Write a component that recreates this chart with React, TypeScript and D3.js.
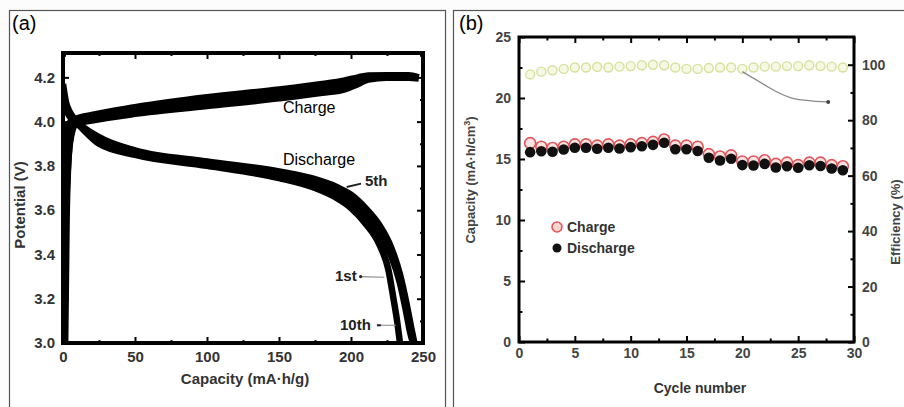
import React, { useEffect, useRef } from 'react';
import * as d3 from 'd3';

const W = 904;
const H = 407;
const FONT = 'Liberation Sans, Arial, Helvetica, sans-serif';

// (a) voltage profiles, [capacity (mA·h/g), potential (V)]
const charge1st = [[0.4, 3.0], [0.7, 3.6], [1.4, 3.88], [3, 3.98], [8, 4.01], [20, 4.03], [50, 4.065], [100, 4.11], [150, 4.145], [180, 4.17], [195, 4.185], [205, 4.2], [212, 4.208], [225, 4.21], [240, 4.21], [247, 4.2]];
const charge5th = [[1.5, 3.0], [2.5, 3.55], [4, 3.85], [6, 3.96], [9, 4.0], [20, 4.017], [50, 4.05], [100, 4.09], [150, 4.125], [180, 4.15], [195, 4.165], [205, 4.19], [212, 4.2], [225, 4.203], [240, 4.203], [247, 4.198]];
const charge10th = [[0.8, 3.0], [1.8, 3.5], [3.5, 3.8], [5.5, 3.93], [9, 3.99], [20, 4.005], [50, 4.035], [100, 4.07], [150, 4.105], [180, 4.13], [195, 4.145], [205, 4.17], [212, 4.19], [225, 4.198], [240, 4.198], [247, 4.195]];
const discharge1st = [[0, 4.17], [2, 4.09], [5, 4.04], [10, 4.0], [25, 3.93], [50, 3.87], [100, 3.82], [150, 3.775], [175, 3.74], [190, 3.705], [200, 3.67], [210, 3.61], [220, 3.53], [228, 3.43], [234, 3.31], [238.5, 3.18], [241.5, 3.08], [244, 3.0]];
const discharge5th = [[0, 4.15], [2, 4.07], [5, 4.03], [10, 3.995], [25, 3.915], [50, 3.86], [100, 3.81], [150, 3.76], [175, 3.72], [190, 3.68], [200, 3.64], [210, 3.575], [220, 3.48], [228, 3.39], [234, 3.27], [238, 3.15], [241, 3.05], [243, 3.0]];
const discharge10th = [[0, 4.14], [2, 4.06], [5, 4.02], [10, 3.99], [25, 3.9], [50, 3.85], [100, 3.8], [150, 3.745], [175, 3.7], [190, 3.655], [200, 3.61], [210, 3.54], [220, 3.44], [226, 3.33], [229.5, 3.2], [232, 3.1], [234, 3.0]];
const capTicksA = [0, 50, 100, 150, 200, 250];
const capMinorA = [25, 75, 125, 175, 225];
const potTicks = [3.0, 3.2, 3.4, 3.6, 3.8, 4.0, 4.2];
const potMinor = [3.1, 3.3, 3.5, 3.7, 3.9, 4.1, 4.3];
// pointer lines for cycle labels
const ptr5th = [[197, 3.705], [207, 3.72]];
const ptr1st = [[206, 3.3], [223, 3.297]];
const ptr10th = [[218, 3.08], [231, 3.08]];

// (b) cycling
const cycleNo = [1, 2, 3, 4, 5, 6, 7, 8, 9, 10, 11, 12, 13, 14, 15, 16, 17, 18, 19, 20, 21, 22, 23, 24, 25, 26, 27, 28, 29];
const chargeCap = [16.3, 16.0, 15.9, 16.0, 16.2, 16.2, 16.1, 16.2, 16.1, 16.2, 16.3, 16.4, 16.6, 16.1, 16.1, 16.0, 15.4, 15.2, 15.3, 14.8, 14.8, 14.9, 14.6, 14.7, 14.5, 14.7, 14.7, 14.5, 14.4];
const dischargeCap = [15.56, 15.64, 15.59, 15.78, 15.92, 15.92, 15.84, 15.92, 15.86, 15.97, 16.05, 16.16, 16.33, 15.8, 15.8, 15.66, 15.1, 14.88, 15.02, 14.5, 14.47, 14.6, 14.3, 14.41, 14.28, 14.49, 14.43, 14.22, 14.08];
const efficiency = [96.5, 97.5, 98, 98.5, 99, 99, 99.2, 99, 99.3, 99.5, 99.8, 100, 99.8, 99, 98.5, 98.5, 98.8, 99, 99, 98.5, 99, 99.3, 99.3, 99.5, 99.5, 99.8, 99.5, 99.3, 99];
const cycleTicks = [0, 5, 10, 15, 20, 25, 30];
const cycleMinor = [2.5, 7.5, 12.5, 17.5, 22.5, 27.5];
const capTicksB = [0, 5, 10, 15, 20, 25];
const capMinorB = [2.5, 7.5, 12.5, 17.5, 22.5];
const effTicks = [0, 20, 40, 60, 80, 100];
const effMinor = [10, 30, 50, 70, 90];
const effArrow = [[20, 97.5], [22.5, 91.5], [24.6, 87.8], [27.6, 86.6]];

const styleAxis = (g, opts) => {
  g.select('.domain').remove();
  g.selectAll('line').attr('stroke', '#000').attr('stroke-width', opts.tw);
  g.selectAll('text')
    .attr('font-family', FONT)
    .attr('font-size', opts.fs)
    .attr('font-weight', 'bold')
    .attr('fill', opts.color);
};

const addAxes = (svg, x, y, o) => {
  const [x0, x1] = x.range();
  const [y0, y1] = y.range();
  const st = { tw: o.tw, fs: o.fs, color: o.color };
  const sets = [
    [d3.axisBottom(x).tickValues(o.xt).tickSize(-o.major).tickPadding(o.xpad).tickFormat(d3.format('d')), `translate(0,${y0})`],
    [d3.axisBottom(x).tickValues(o.xm).tickSize(-o.minor).tickFormat(() => ''), `translate(0,${y0})`],
    [d3.axisTop(x).tickValues(o.xt).tickSize(-o.major).tickFormat(() => ''), `translate(0,${y1})`],
    [d3.axisTop(x).tickValues(o.xm).tickSize(-o.minor).tickFormat(() => ''), `translate(0,${y1})`],
    [d3.axisLeft(y).tickValues(o.yt).tickSize(-o.major).tickPadding(o.ypad).tickFormat(o.yfmt), `translate(${x0},0)`],
    [d3.axisLeft(y).tickValues(o.ym).tickSize(-o.minor).tickFormat(() => ''), `translate(${x0},0)`],
  ];
  sets.forEach(([ax, tr]) => {
    svg.append('g').attr('transform', tr).call(ax).call(g => styleAxis(g, st));
  });
  if (o.y2) {
    const y2 = o.y2;
    svg.append('g').attr('transform', `translate(${x1},0)`)
      .call(d3.axisRight(y2).tickValues(o.y2t).tickSize(-o.major).tickPadding(o.ypad).tickFormat(d3.format('d')))
      .call(g => styleAxis(g, st));
    svg.append('g').attr('transform', `translate(${x1},0)`)
      .call(d3.axisRight(y2).tickValues(o.y2m).tickSize(-o.minor).tickFormat(() => ''))
      .call(g => styleAxis(g, st));
  } else {
    svg.append('g').attr('transform', `translate(${x1},0)`)
      .call(d3.axisRight(y).tickValues(o.yt).tickSize(-o.major).tickFormat(() => ''))
      .call(g => styleAxis(g, st));
    svg.append('g').attr('transform', `translate(${x1},0)`)
      .call(d3.axisRight(y).tickValues(o.ym).tickSize(-o.minor).tickFormat(() => ''))
      .call(g => styleAxis(g, st));
  }
  svg.append('rect')
    .attr('x', x0).attr('y', y1)
    .attr('width', x1 - x0).attr('height', y0 - y1)
    .attr('fill', 'none').attr('stroke', '#000').attr('stroke-width', o.fw);
};

const label = (svg, txt, x, y, size, weight, color, anchor = 'start', rot = 0) => {
  const t = svg.append('text')
    .attr('x', x).attr('y', y)
    .attr('font-family', FONT)
    .attr('font-size', size)
    .attr('font-weight', weight)
    .attr('fill', color)
    .attr('text-anchor', anchor)
    .text(txt);
  if (rot) t.attr('transform', `rotate(${rot},${x},${y})`);
  return t;
};

const drawPanelA = (svg) => {
  const x = d3.scaleLinear().domain([0, 250]).range([63, 423]);
  const y = d3.scaleLinear().domain([3.0, 4.31]).range([343, 53]);

  svg.append('defs').append('clipPath').attr('id', 'clipA')
    .append('rect').attr('x', 63).attr('y', 53).attr('width', 360).attr('height', 290);

  const line = d3.line().x(d => x(d[0])).y(d => y(d[1])).curve(d3.curveMonotoneX);
  const curves = svg.append('g').attr('clip-path', 'url(#clipA)');
  [charge1st, charge5th, charge10th, discharge1st, discharge5th, discharge10th].forEach(s => {
    curves.append('path')
      .attr('d', line(s))
      .attr('fill', 'none')
      .attr('stroke', '#000')
      .attr('stroke-width', 6.5)
      .attr('stroke-linejoin', 'round');
  });

  addAxes(svg, x, y, {
    xt: capTicksA, xm: capMinorA, yt: potTicks, ym: potMinor,
    major: 6, minor: 3, tw: 2, fw: 4, fs: 15, color: '#333',
    xpad: 8, ypad: 8, yfmt: d3.format('.1f'),
  });

  const straight = d3.line().x(d => x(d[0])).y(d => y(d[1]));
  svg.append('path').attr('d', straight(ptr5th)).attr('stroke', '#222').attr('stroke-width', 2).attr('fill', 'none');
  svg.append('path').attr('d', straight(ptr1st)).attr('stroke', '#888').attr('stroke-width', 1.2).attr('fill', 'none');
  svg.append('path').attr('d', straight(ptr10th)).attr('stroke', '#999').attr('stroke-width', 1.2).attr('fill', 'none');
  svg.append('circle').attr('cx', x(ptr1st[0][0]) + 1).attr('cy', y(ptr1st[0][1])).attr('r', 1.6).attr('fill', '#222');
  svg.append('rect').attr('x', x(ptr10th[0][0])).attr('y', y(ptr10th[0][1]) - 1).attr('width', 4).attr('height', 2).attr('fill', '#222');

  label(svg, 'Charge', 283, 113, 16, 'normal', '#000');
  label(svg, 'Discharge', 283, 165, 16, 'normal', '#000');
  label(svg, '5th', 365, 186, 15, 'bold', '#222');
  label(svg, '1st', 335, 281, 15, 'bold', '#222');
  label(svg, '10th', 340, 330, 15, 'bold', '#222');

  label(svg, 'Potential (V)', 25, 205, 15, 'bold', '#333', 'middle', -90);
  label(svg, 'Capacity (mA·h/g)', 245, 384, 15, 'bold', '#333', 'middle');
  label(svg, '(a)', 12, 30, 20, 'normal', '#000');
};

const drawPanelB = (svg) => {
  const x = d3.scaleLinear().domain([0, 30]).range([519, 854]);
  const y = d3.scaleLinear().domain([0, 25]).range([342, 37]);
  const y2 = d3.scaleLinear().domain([0, 110]).range([342, 37]);

  const eff = svg.append('g');
  eff.selectAll('circle').data(efficiency).enter().append('circle')
    .attr('cx', (d, i) => x(cycleNo[i]))
    .attr('cy', d => y2(d))
    .attr('r', 4.5)
    .attr('fill', '#f5f8e2')
    .attr('stroke', '#d8e09c')
    .attr('stroke-width', 1.4);

  const curve = d3.line().x(d => x(d[0])).y(d => y2(d[1])).curve(d3.curveNatural);
  svg.append('path').attr('d', curve(effArrow))
    .attr('fill', 'none').attr('stroke', '#8a8a8a').attr('stroke-width', 1.3);
  const last = effArrow[effArrow.length - 1];
  svg.append('circle').attr('cx', x(last[0]) + 1).attr('cy', y2(last[1])).attr('r', 2).attr('fill', '#444');

  svg.append('g').selectAll('circle').data(chargeCap).enter().append('circle')
    .attr('cx', (d, i) => x(cycleNo[i]))
    .attr('cy', d => y(d))
    .attr('r', 5.5)
    .attr('fill', '#fbe3e1')
    .attr('stroke', '#e0545a')
    .attr('stroke-width', 1.6);

  svg.append('g').selectAll('circle').data(dischargeCap).enter().append('circle')
    .attr('cx', (d, i) => x(cycleNo[i]))
    .attr('cy', d => y(d))
    .attr('r', 5.3)
    .attr('fill', '#111');

  addAxes(svg, x, y, {
    xt: cycleTicks, xm: cycleMinor, yt: capTicksB, ym: capMinorB,
    y2, y2t: effTicks, y2m: effMinor,
    major: 6, minor: 3.5, tw: 2, fw: 3, fs: 14, color: '#444',
    xpad: 6, ypad: 8, yfmt: d3.format('d'),
  });

  // legend
  svg.append('circle').attr('cx', 557).attr('cy', 227).attr('r', 5)
    .attr('fill', '#f8d4d0').attr('stroke', '#e0545a').attr('stroke-width', 1.6);
  svg.append('circle').attr('cx', 557).attr('cy', 248).attr('r', 4.5).attr('fill', '#111');
  label(svg, 'Charge', 567, 232, 14, 'bold', '#333');
  label(svg, 'Discharge', 567, 253, 14, 'bold', '#333');

  const capLbl = label(svg, 'Capacity (mA·h/cm', 475, 180, 13, 'bold', '#444', 'middle', -90);
  capLbl.append('tspan').attr('dy', -5).attr('font-size', 9).text('3');
  capLbl.append('tspan').attr('dy', 5).text(')');
  label(svg, 'Efficiency (%)', 900, 222, 13, 'bold', '#444', 'middle', -90);
  label(svg, 'Cycle number', 700, 393, 14, 'bold', '#333', 'middle');
  label(svg, '(b)', 459, 30, 20, 'normal', '#000');
};

const drawChart = (el) => {
  const svg = d3.select(el);
  svg.selectAll('*').remove();
  svg.append('rect').attr('width', W).attr('height', H).attr('fill', '#fcfcfc');
  svg.append('rect').attr('x', 9.5).attr('y', 10.5).attr('width', 436).attr('height', 420)
    .attr('fill', '#fff').attr('stroke', '#555').attr('stroke-width', 1.2);
  svg.append('rect').attr('x', 453.5).attr('y', 10.5).attr('width', 452).attr('height', 420)
    .attr('fill', '#fff').attr('stroke', '#555').attr('stroke-width', 1.2);
  drawPanelA(svg);
  drawPanelB(svg);
};

const App = () => {
  const ref = useRef(null);
  useEffect(() => {
    drawChart(ref.current);
  }, []);
  return (
    <svg
      ref={ref}
      width={W}
      height={H}
      style={{ position: 'absolute', left: 0, top: 0, display: 'block' }}
    />
  );
};

export default App;
